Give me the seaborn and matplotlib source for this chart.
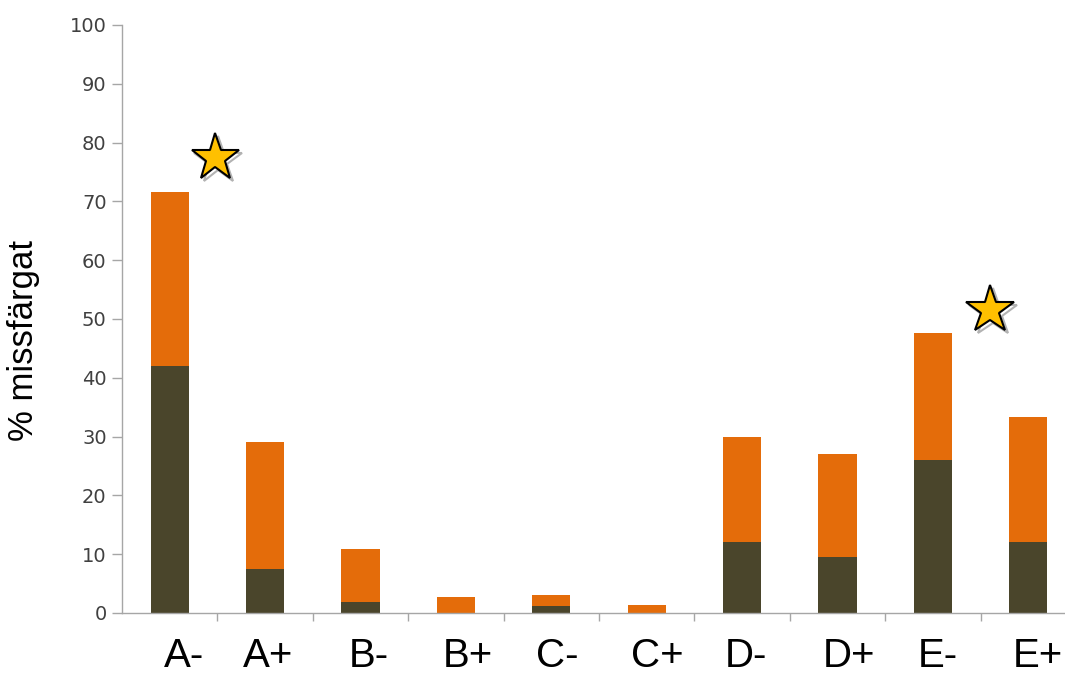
import numpy as np
import pandas as pd
import matplotlib
matplotlib.use("Agg")
import matplotlib.pyplot as plt
import matplotlib.patheffects as pe
from matplotlib.transforms import ScaledTranslation
import seaborn as sns

# ---- data ----
categories = ["A-", "A+", "B-", "B+", "C-", "C+", "D-", "D+", "E-", "E+"]
total_pct = [71.6, 29.0, 10.8, 2.8, 3.0, 1.4, 30.0, 27.0, 47.7, 33.4]
dark_pct = [42.0, 7.5, 1.8, 0.0, 1.2, 0.0, 12.0, 9.5, 26.0, 12.0]
star_cat_pos = [0.48, 8.6]
star_y = [77.4, 51.5]
yticks = [0, 10, 20, 30, 40, 50, 60, 70, 80, 90, 100]
ylabel = "% missfärgat"

# ---- style ----
ORANGE = "#E46C0A"
DARK = "#4A452B"
AXIS_GRAY = "#A6A6A6"
label_dx_px = [14, 3, 8, 12, 6, 11, 4, 12, 5, 10]

sns.set_theme(style="white")
plt.rcParams["font.family"] = ["Liberation Sans", "DejaVu Sans"]

fig = plt.figure(figsize=(10.65, 6.77), dpi=100)
W, H = 1065, 677
ax = fig.add_axes([122 / W, (H - 613) / H, 954 / W, 588 / H])

df = pd.DataFrame({"cat": categories, "total": total_pct, "dark": dark_pct})
sns.barplot(data=df, x="cat", y="total", color=ORANGE, width=0.4,
            saturation=1, ax=ax, edgecolor="none", linewidth=0)
sns.barplot(data=df, x="cat", y="dark", color=DARK, width=0.4,
            saturation=1, ax=ax, edgecolor="none", linewidth=0)

ax.set_xlim(-0.5, len(categories) - 0.5)
ax.set_ylim(0, 100)
ax.set_yticks(yticks)
ax.set_yticklabels([str(t) for t in yticks], fontfamily="DejaVu Sans",
                   fontsize=14, color="#404040")

# x ticks: labels at centres, tick marks between categories
ax.set_xticks(range(len(categories)))
ax.set_xticklabels(categories, fontsize=29, color="black")
ax.set_xticks(np.arange(0.5, len(categories) - 0.5, 1.0), minor=True)
ax.tick_params(axis="x", which="major", length=0, pad=17)
ax.tick_params(axis="x", which="minor", length=6, width=1, color=AXIS_GRAY,
               direction="out", bottom=True)
ax.tick_params(axis="y", which="major", length=7, width=1, color=AXIS_GRAY,
               direction="out", left=True, pad=4)
for lbl, dx in zip(ax.get_xticklabels(), label_dx_px):
    lbl.set_transform(lbl.get_transform() +
                      ScaledTranslation(dx / 100, 0, fig.dpi_scale_trans))

for side in ["top", "right"]:
    ax.spines[side].set_visible(False)
for side in ["left", "bottom"]:
    ax.spines[side].set_color(AXIS_GRAY)
    ax.spines[side].set_linewidth(1.0)

ax.set_xlabel("")
ax.set_ylabel("")
fig.text(24 / W, 1 - 340 / H, ylabel, rotation=90, ha="center", va="center",
         fontsize=25, color="black")

# stars
ax.plot(star_cat_pos, star_y, linestyle="none", marker="*", markersize=36,
        markerfacecolor="#FFC000", markeredgecolor="black", markeredgewidth=1.5,
        clip_on=False,
        path_effects=[pe.SimpleLineShadow(offset=(2, -2), shadow_color="#555555",
                                          alpha=0.45), pe.Normal()])

fig.savefig("out.png", dpi=100)
